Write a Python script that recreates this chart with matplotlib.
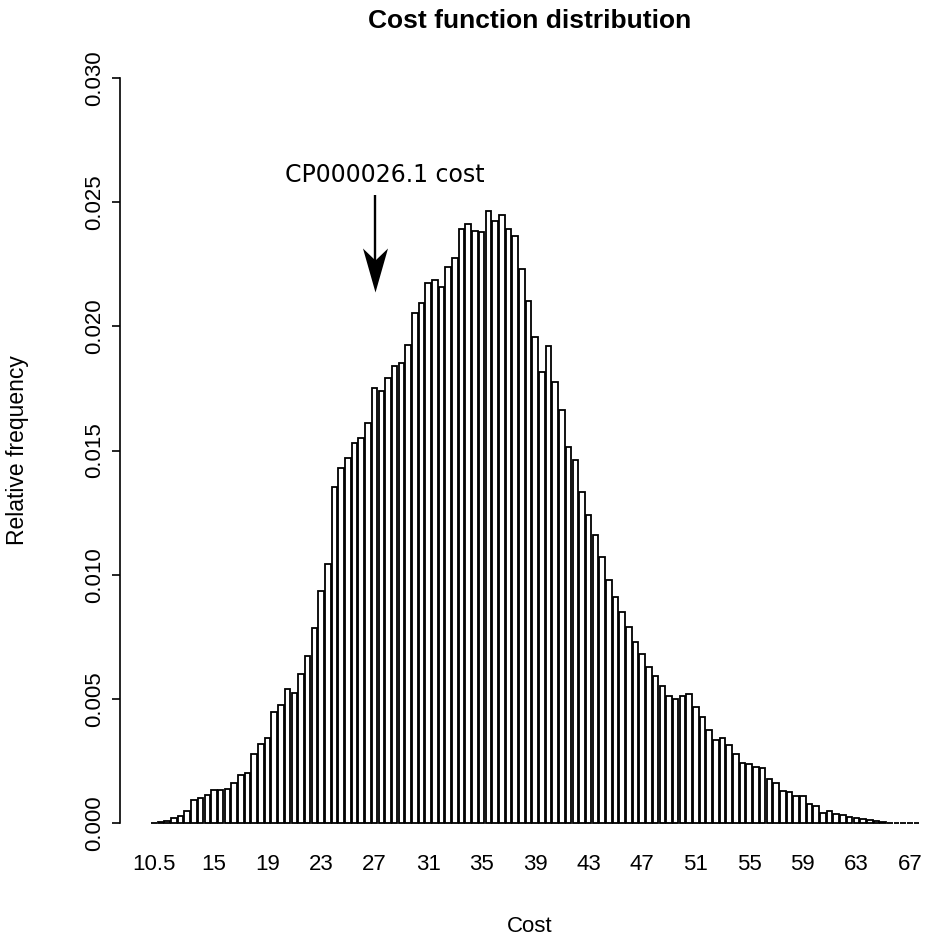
import matplotlib
matplotlib.use("Agg")
import matplotlib.pyplot as plt
from matplotlib.path import Path

# ---------------- data ----------------
costs = [10.5, 11.0, 11.5, 12.0, 12.5, 13.0, 13.5, 14.0, 14.5, 15.0,
         15.5, 16.0, 16.5, 17.0, 17.5, 18.0, 18.5, 19.0, 19.5, 20.0,
         20.5, 21.0, 21.5, 22.0, 22.5, 23.0, 23.5, 24.0, 24.5, 25.0,
         25.5, 26.0, 26.5, 27.0, 27.5, 28.0, 28.5, 29.0, 29.5, 30.0,
         30.5, 31.0, 31.5, 32.0, 32.5, 33.0, 33.5, 34.0, 34.5, 35.0,
         35.5, 36.0, 36.5, 37.0, 37.5, 38.0, 38.5, 39.0, 39.5, 40.0,
         40.5, 41.0, 41.5, 42.0, 42.5, 43.0, 43.5, 44.0, 44.5, 45.0,
         45.5, 46.0, 46.5, 47.0, 47.5, 48.0, 48.5, 49.0, 49.5, 50.0,
         50.5, 51.0, 51.5, 52.0, 52.5, 53.0, 53.5, 54.0, 54.5, 55.0,
         55.5, 56.0, 56.5, 57.0, 57.5, 58.0, 58.5, 59.0, 59.5, 60.0,
         60.5, 61.0, 61.5, 62.0, 62.5, 63.0, 63.5, 64.0, 64.5, 65.0,
         65.5, 66.0, 66.5, 67.0, 67.5]

freq = [0.00002, 0.00004, 0.00010, 0.00022, 0.00028, 0.00048, 0.00093, 0.00101, 0.00112, 0.00132,
        0.00132, 0.00136, 0.00161, 0.00195, 0.00200, 0.00279, 0.00317, 0.00342, 0.00446, 0.00477,
        0.00540, 0.00522, 0.00601, 0.00671, 0.00785, 0.00934, 0.01043, 0.01353, 0.01430, 0.01470,
        0.01530, 0.01550, 0.01610, 0.01750, 0.01740, 0.01790, 0.01841, 0.01852, 0.01926, 0.02052,
        0.02095, 0.02176, 0.02185, 0.02158, 0.02240, 0.02276, 0.02393, 0.02413, 0.02385, 0.02379,
        0.02463, 0.02424, 0.02448, 0.02393, 0.02362, 0.02232, 0.02102, 0.01959, 0.01816, 0.01920,
        0.01777, 0.01663, 0.01514, 0.01463, 0.01331, 0.01240, 0.01160, 0.01070, 0.00980, 0.00910,
        0.00850, 0.00790, 0.00730, 0.00680, 0.00630, 0.00590, 0.00550, 0.00510, 0.00500, 0.00510,
        0.00520, 0.00467, 0.00428, 0.00374, 0.00336, 0.00341, 0.00316, 0.00277, 0.00243, 0.00238,
        0.00226, 0.00221, 0.00177, 0.00160, 0.00129, 0.00124, 0.00109, 0.00109, 0.00077, 0.00070,
        0.00042, 0.00047, 0.00036, 0.00032, 0.00024, 0.00020, 0.00016, 0.00011, 0.00007, 0.00004,
        0.00002, 0.00001, 0.000005, 0.000005, 0.000005]

xtick_values = [10.5, 15, 19, 23, 27, 31, 35, 39, 43, 47, 51, 55, 59, 63, 67]
xtick_labels = ["10.5", "15", "19", "23", "27", "31", "35", "39", "43", "47",
                "51", "55", "59", "63", "67"]
ytick_values = [0.000, 0.005, 0.010, 0.015, 0.020, 0.025, 0.030]

title = "Cost function distribution"
xlabel = "Cost"
ylabel = "Relative frequency"

annot_text = "CP000026.1 cost"
annot_cost = 27.0
annot_text_x = 27.75
annot_text_y = 0.02609
arrow_top = 0.02528
arrow_tip = 0.02138

# ---------------- figure ----------------
W, H = 929, 941
fig = plt.figure(figsize=(W / 100, H / 100), dpi=100)
plt.rcParams['font.family'] = ['Liberation Sans', 'DejaVu Sans']

ax_left_px, ax_right_px = 120, 929
ax_top_px, ax_bot_px = 48.2, 852.8
ax = fig.add_axes([ax_left_px / W, 1 - ax_bot_px / H,
                   (ax_right_px - ax_left_px) / W, (ax_bot_px - ax_top_px) / H])

bar_w = 0.5 / 1.2
ax.bar(costs, freq, width=bar_w, color="white", edgecolor="black",
       linewidth=1.3, align="center")

ax.set_xlim(7.974, 68.43)
ax.set_ylim(-0.0012, 0.0312)

for s in ["top", "right", "bottom"]:
    ax.spines[s].set_visible(False)
ax.spines["left"].set_bounds(0, 0.030)
ax.spines["left"].set_linewidth(1.2)

ax.set_yticks(ytick_values)
ax.set_yticklabels([f"{v:.3f}" for v in ytick_values], rotation=90, va="center",
                   fontsize=16)
ax.tick_params(axis="y", length=6, width=1.2, pad=5)

ax.set_xticks(xtick_values)
ax.set_xticklabels(xtick_labels, fontsize=16)
ax.tick_params(axis="x", length=0, pad=1)

fig.text(530 / W, 1 - 21 / H, title, ha="center", va="center",
         fontsize=19, fontweight="bold")
fig.text(530 / W, 1 - 927 / H, xlabel, ha="center", va="center", fontsize=16)
fig.text(18 / W, 1 - 450 / H, ylabel, ha="center", va="center", fontsize=16.5,
         rotation=90)

# annotation arrow
ax.text(annot_text_x, annot_text_y, annot_text, ha="center", va="center",
        fontsize=17, family="DejaVu Sans")
ax.plot([annot_cost, annot_cost], [arrow_top, arrow_tip + 0.0008],
        color="black", linewidth=1.7, solid_capstyle="butt")
head = Path([(0, 0), (-12.5, 44), (0, 32), (12.5, 44), (0, 0)],
            [Path.MOVETO, Path.LINETO, Path.LINETO, Path.LINETO, Path.CLOSEPOLY])
ax.plot([annot_cost], [arrow_tip], marker=head, markersize=88 * 72 / 100,
        color="black", markeredgewidth=0)

fig.savefig("out.png", dpi=100)
